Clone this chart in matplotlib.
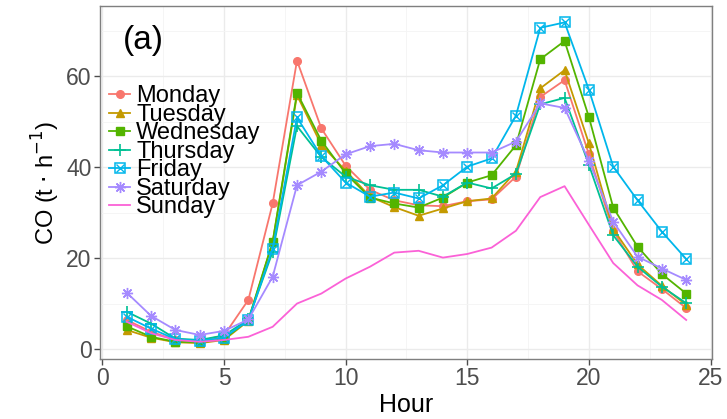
import matplotlib
matplotlib.use("Agg")
import matplotlib.pyplot as plt
from matplotlib.ticker import MultipleLocator
from matplotlib.legend_handler import HandlerTuple

plt.rcParams['font.family'] = ['Liberation Sans', 'DejaVu Sans']

hours = list(range(1, 25))

monday = [6.4, 3.8, 2.0, 1.8, 3.0, 10.8, 32.0, 63.4, 48.5, 40.3, 35.0, 32.7,
          31.6, 31.4, 32.5, 32.9, 37.9, 55.4, 59.1, 42.8, 26.0, 17.1, 13.2, 9.0]
tuesday = [4.2, 2.5, 1.5, 1.3, 2.0, 6.2, 23.5, 55.8, 44.9, 39.2, 33.5, 31.2,
           29.3, 30.9, 32.5, 33.1, 39.0, 57.3, 61.3, 45.2, 26.4, 18.6, 13.9, 9.7]
wednesday = [5.0, 2.7, 1.6, 1.5, 2.2, 6.4, 23.6, 56.3, 45.8, 38.6, 33.3, 32.0,
             31.1, 33.3, 36.6, 38.2, 44.8, 63.7, 67.7, 51.0, 31.1, 22.5, 16.5, 12.2]
thursday = [8.2, 5.6, 2.3, 2.0, 3.0, 6.5, 21.4, 49.0, 42.2, 37.9, 36.0, 35.0,
            35.0, 33.5, 36.6, 35.3, 38.5, 53.8, 55.2, 40.5, 25.0, 18.1, 13.7, 10.1]
friday = [7.1, 4.5, 2.2, 1.8, 2.5, 6.3, 22.1, 50.9, 42.4, 36.6, 33.5, 34.4,
          33.1, 36.0, 40.1, 41.9, 51.3, 70.6, 71.8, 57.0, 40.1, 32.7, 25.8, 19.8]
saturday = [12.4, 7.3, 4.2, 3.1, 4.0, 6.5, 15.9, 36.0, 39.0, 42.8, 44.6, 45.1,
            43.7, 43.2, 43.2, 43.2, 45.6, 54.0, 53.0, 41.4, 28.0, 20.3, 17.7, 15.2]
sunday = [6.0, 3.5, 2.0, 1.6, 2.0, 2.7, 4.9, 10.0, 12.2, 15.5, 18.1, 21.2,
          21.6, 20.1, 20.9, 22.3, 26.0, 33.4, 35.8, 27.3, 18.9, 14.0, 10.8, 6.4]

days = ["Monday", "Tuesday", "Wednesday", "Thursday", "Friday", "Saturday", "Sunday"]
series = [monday, tuesday, wednesday, thursday, friday, saturday, sunday]
colors = ["#F8766D", "#C49A00", "#53B400", "#00C094", "#00B6EB", "#A58AFF", "#FB61D7"]

fig = plt.figure(figsize=(7.27, 4.19), dpi=100)
ax = fig.add_axes([0.1375, 0.143, 0.8415, 0.8427])

handles = []
for name, vals, col in zip(days, series, colors):
    if name == "Monday":
        h, = ax.plot(hours, vals, color=col, lw=1.3, marker="o", ms=5.5)
    elif name == "Tuesday":
        h, = ax.plot(hours, vals, color=col, lw=1.3, marker="^", ms=6)
    elif name == "Wednesday":
        h, = ax.plot(hours, vals, color=col, lw=1.3, marker="s", ms=5.5)
    elif name == "Thursday":
        h, = ax.plot(hours, vals, color=col, lw=1.3, marker="+", ms=8, mew=1.2)
    elif name == "Friday":
        h1, = ax.plot(hours, vals, color=col, lw=1.3, marker="s", ms=6.5,
                      mfc="none", mew=1.1)
        h2, = ax.plot(hours, vals, color=col, lw=0, marker="x", ms=5.5, mew=1.0)
        h = (h1, h2)
    elif name == "Saturday":
        h, = ax.plot(hours, vals, color=col, lw=1.3, marker=(8, 2, 0), ms=8, mew=1.0)
    else:
        h, = ax.plot(hours, vals, color=col, lw=1.3)
    handles.append(h)

ax.set_xlim(-0.1, 25.05)
ax.set_ylim(-2.2, 75.4)
ax.xaxis.set_major_locator(MultipleLocator(5))
ax.xaxis.set_minor_locator(MultipleLocator(2.5))
ax.yaxis.set_major_locator(MultipleLocator(20))
ax.yaxis.set_minor_locator(MultipleLocator(10))
ax.grid(which="major", color="#ebebeb", lw=1.0)
ax.grid(which="minor", color="#f4f4f4", lw=0.6)
ax.set_axisbelow(True)
for sp in ax.spines.values():
    sp.set_color("#7f7f7f")
    sp.set_linewidth(1.0)
ax.tick_params(which="major", colors="#4d4d4d", labelsize=16.5, length=4, width=1.0,
               pad=2)
ax.tick_params(which="minor", length=0)

ax.set_xlabel("Hour", fontsize=18, labelpad=2)
ax.set_ylabel(r"CO (t $\cdot$ h$^{-1}$)", fontsize=17, labelpad=3)
ax.text(0.037, 0.945, "(a)", transform=ax.transAxes, fontsize=24, va="top", ha="left")

leg = ax.legend(handles, days, loc="upper left", bbox_to_anchor=(-0.008, 0.815),
                frameon=False, fontsize=17, labelspacing=-0.15, handlelength=0.9,
                handletextpad=0.25, borderaxespad=0.2,
                handler_map={tuple: HandlerTuple(ndivide=1)})

fig.savefig("out.png", dpi=100)
